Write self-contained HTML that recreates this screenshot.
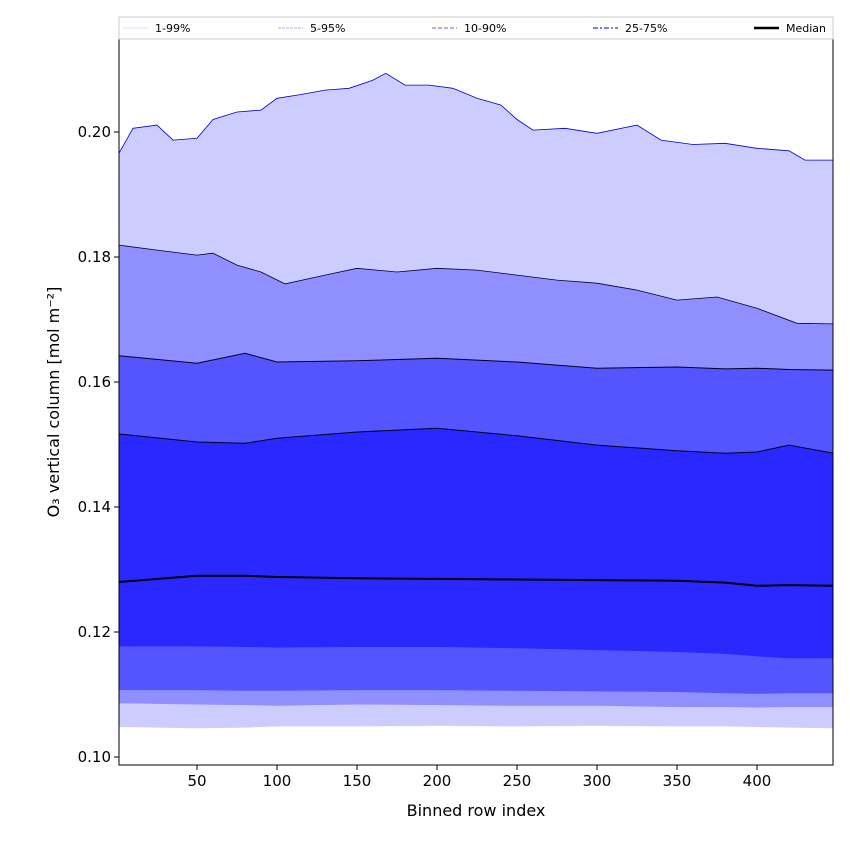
<!DOCTYPE html>
<html><head><meta charset="utf-8"><style>
body{margin:0;background:#fff;font-family:"Liberation Sans","DejaVu Sans",sans-serif}
svg text{font-family:"DejaVu Sans","Liberation Sans",sans-serif}
</style></head><body>
<svg id="chart" width="850" height="850" xmlns="http://www.w3.org/2000/svg"></svg>
<script>
const xIdx=[1,10,25,35,50,60,75,90,100,115,130,145,160,168,180,195,210,225,240,250,260,280,300,325,340,360,380,400,420,430,448];
const p99=[0.1965,0.2006,0.2011,0.1987,0.199,0.202,0.2032,0.2035,0.2054,0.206,0.2067,0.207,0.2083,0.2094,0.2075,0.2075,0.207,0.2054,0.2043,0.202,0.2003,0.2006,0.1998,0.2011,0.1987,0.198,0.1982,0.1974,0.197,0.1955,0.1955];
const xIdxB=[1,25,50,60,75,90,105,130,150,175,200,225,250,275,300,325,350,375,400,425,448];
const p95=[0.1819,0.1811,0.1803,0.1806,0.1787,0.1776,0.1757,0.1771,0.1782,0.1776,0.1782,0.1779,0.1771,0.1763,0.1758,0.1747,0.1731,0.1736,0.1718,0.1694,0.1693];
const xIdxC=[1,50,80,100,150,200,250,300,350,380,400,420,448];
const p90=[0.1642,0.163,0.1646,0.1632,0.1634,0.1638,0.1632,0.1622,0.1624,0.1621,0.1622,0.162,0.1619];
const p75=[0.1517,0.1504,0.1502,0.151,0.152,0.1526,0.1514,0.1499,0.149,0.1486,0.1488,0.1499,0.1486];
const p50=[0.128,0.129,0.129,0.1288,0.1286,0.1285,0.1284,0.1283,0.1282,0.1279,0.1274,0.1275,0.1274];
const p25=[0.1177,0.1177,0.1176,0.1175,0.1176,0.1176,0.1174,0.1171,0.1168,0.1165,0.1161,0.1158,0.1158];
const p10=[0.1107,0.1107,0.1106,0.1106,0.1107,0.1107,0.1106,0.1105,0.1104,0.1102,0.1101,0.1102,0.1102];
const p05=[0.1086,0.1084,0.1083,0.1082,0.1084,0.1083,0.1082,0.1082,0.1080,0.1080,0.1079,0.1080,0.1080];
const p01=[0.1048,0.1046,0.1047,0.1049,0.1049,0.1050,0.1049,0.1050,0.1049,0.1049,0.1048,0.1047,0.1046];
const xTicks=[50,100,150,200,250,300,350,400];
const yTicks=[0.10,0.12,0.14,0.16,0.18,0.20];
const L=119,R=833,T=39,B=765;
const X=v=>117+v*1.6, Y=v=>757-(v-0.10)*6250;
const svg=document.getElementById('chart');const NS='http://www.w3.org/2000/svg';
function el(t,a,p){const e=document.createElementNS(NS,t);for(const k in a)e.setAttribute(k,a[k]);(p||svg).appendChild(e);return e;}
function pts(xs,ys){return xs.map((x,i)=>X(x).toFixed(1)+','+Y(ys[i]).toFixed(1));}
function band(xa,ya,xb,yb,fill,name){
 const a=pts(xa,ya),b=pts(xb,yb).reverse();
 const e=el('polygon',{points:a.concat(b).join(' '),fill:fill});
 
 
}
const g=el('g',{'clip-path':'url(#c)'});
const cp=el('clipPath',{id:'c'});el('rect',{x:L,y:T,width:R-L,height:B-T},cp);
function bandg(xa,ya,xb,yb,fill,name){const a=pts(xa,ya),b=pts(xb,yb).reverse();const e=el('polygon',{points:a.concat(b).join(' '),fill:fill},g);}
bandg(xIdx,p99,xIdxC,p01,'#ccccff','band-1-99');
bandg(xIdxB,p95,xIdxC,p05,'#8f8fff','band-5-95');
bandg(xIdxC,p90,xIdxC,p10,'#5555ff','band-10-90');
bandg(xIdxC,p75,xIdxC,p25,'#2929ff','band-25-75');
function line(xs,ys,st,w,name){const e=el('polyline',{points:pts(xs,ys).join(' '),fill:'none',stroke:st,'stroke-width':w},g);}
line(xIdx,p99,'#0000cc',0.8,'line-p99');
line(xIdxB,p95,'#000033',0.8,'line-p95');
line(xIdxC,p90,'#000022',1,'line-p90');
line(xIdxC,p75,'#000022',1,'line-p75');
line(xIdxC,p50,'#000',2,'median-line');
el('rect',{x:L,y:T,width:R-L,height:B-T,fill:'none',stroke:'#000','stroke-width':1});
xTicks.forEach(v=>{el('line',{x1:X(v),x2:X(v),y1:B,y2:B+5,stroke:'#000'});const t=el('text',{x:X(v),y:B+21,'text-anchor':'middle','font-size':15});t.textContent=v;});
yTicks.forEach(v=>{el('line',{x1:L-5,x2:L,y1:Y(v),y2:Y(v),stroke:'#000'});const t=el('text',{x:L-8,y:Y(v)+5,'text-anchor':'end','font-size':15});t.textContent=v.toFixed(2);});
const xt=el('text',{x:476,y:816,'text-anchor':'middle','font-size':16});xt.textContent='Binned row index';
const yt=el('text',{x:0,y:0,'text-anchor':'middle','font-size':16,transform:'translate(59,402) rotate(-90)'});yt.textContent='O₃ vertical column [mol m⁻²]';
const lg=el('g',{});
el('rect',{x:119,y:17,width:714,height:22,fill:'#fff',stroke:'#ccc'},lg);
const legs=[['1-99%',123,'#ddddff',1,''],['5-95%',278,'#aaaaff',1,'3,1'],['10-90%',432,'#8080ff',1.3,'4,2'],['25-75%',593,'#5050ff',1.6,'5,2,2,2'],['Median',754,'#000',2.5,'']];
legs.forEach(l=>{el('line',{x1:l[1],x2:l[1]+25,y1:28,y2:28,stroke:l[2],'stroke-width':l[3],'stroke-dasharray':l[4]},lg);const t=el('text',{x:l[1]+32,y:32,'font-size':11},lg);t.textContent=l[0];});
</script>
</body></html>
